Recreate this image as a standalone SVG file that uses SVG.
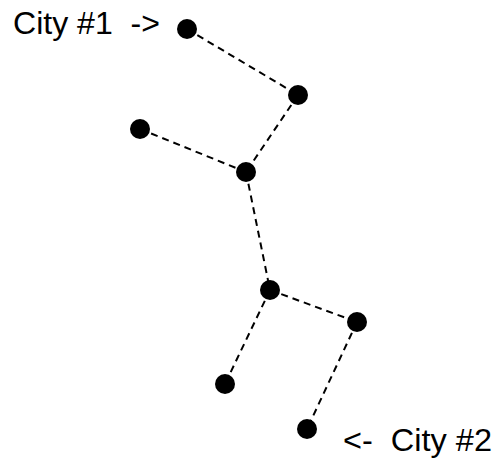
<svg xmlns="http://www.w3.org/2000/svg" width="496" height="463" viewBox="0 0 496 463">
<style>
.edge{stroke:#000;stroke-width:2;stroke-dasharray:7,5;fill:none}
.node{fill:#000}
.lbl{font-family:"Liberation Sans",Arial,sans-serif;font-size:31px;fill:#000}
</style>
<rect width="496" height="463" fill="#fff"/>
<g id="connectors">
<line class="edge" x1="187" y1="29" x2="298" y2="95"/>
<line class="edge" x1="298" y1="95" x2="246" y2="172"/>
<line class="edge" x1="140" y1="129" x2="246" y2="172"/>
<line class="edge" x1="246" y1="172" x2="270" y2="290"/>
<line class="edge" x1="270" y1="290" x2="357" y2="322"/>
<line class="edge" x1="270" y1="290" x2="225" y2="384"/>
<line class="edge" x1="357" y1="322" x2="307" y2="429"/>
</g>
<g id="city1"><circle class="node" cx="187" cy="29" r="10"/></g>
<g id="n2"><circle class="node" cx="298" cy="95" r="10"/></g>
<g id="n3"><circle class="node" cx="140" cy="129" r="10"/></g>
<g id="n4"><circle class="node" cx="246" cy="172" r="10"/></g>
<g id="n5"><circle class="node" cx="270" cy="290" r="10"/></g>
<g id="n6"><circle class="node" cx="357" cy="322" r="10"/></g>
<g id="n7"><circle class="node" cx="225" cy="384" r="10"/></g>
<g id="city2"><circle class="node" cx="307" cy="429" r="10"/></g>
<g id="label1"><text class="lbl" x="13" y="34" textLength="147" lengthAdjust="spacingAndGlyphs" xml:space="preserve">City #1  -&gt;</text></g>
<g id="label2"><text class="lbl" x="343" y="451" textLength="149" lengthAdjust="spacingAndGlyphs" xml:space="preserve">&lt;-  City #2</text></g>
</svg>
